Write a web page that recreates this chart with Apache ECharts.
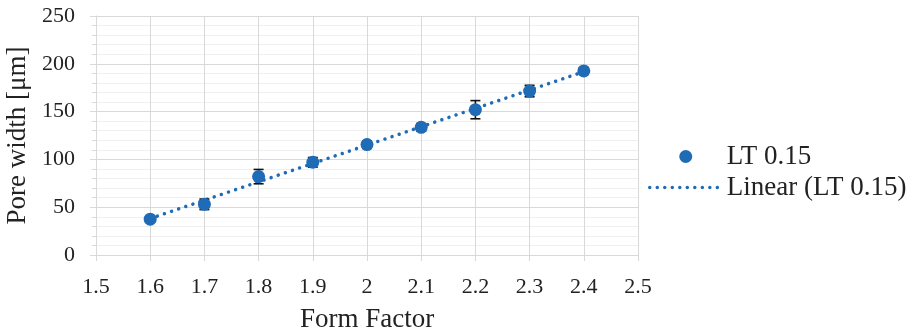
<!DOCTYPE html>
<html><head><meta charset="utf-8">
<script src="https://cdn.jsdelivr.net/npm/echarts@6/dist/echarts.min.js"></script>
<style>html,body{margin:0;padding:0;background:#fff}#c{width:914px;height:332px}</style>
</head><body><div id="c"></div>
<script>
const formFactor = [1.6, 1.7, 1.8, 1.9, 2.0, 2.1, 2.2, 2.3, 2.4];
const poreWidth  = [37.5, 53, 82, 97, 115.5, 133.5, 152, 171.5, 192.5];
const poreError  = [2, 5.5, 7.5, 5, 3.5, 4, 9.5, 6, 3.5];
const seriesName = 'LT 0.15';
const trendName  = 'Linear (LT 0.15)';

// least-squares trendline (as Excel's linear trendline)
const n = formFactor.length;
const mx = formFactor.reduce((a,b)=>a+b,0)/n;
const my = poreWidth.reduce((a,b)=>a+b,0)/n;
let sxy=0, sxx=0;
for (let i=0;i<n;i++){ sxy+=(formFactor[i]-mx)*(poreWidth[i]-my); sxx+=(formFactor[i]-mx)**2; }
const slope = sxy/sxx, icpt = my - slope*mx;
const xs = [formFactor[0], formFactor[n-1]];
const trend = xs.map(x => [x, icpt + slope*x]);

const blue = '#1f6bb5';
const font = '"Liberation Serif","Times New Roman",serif';
const dotted = {color:blue,width:3.5,type:[0.01,7.5],cap:'round'};
const chart = echarts.init(document.getElementById('c'));
chart.setOption({
  animation:false,
  textStyle:{fontFamily:font},
  grid:{left:96,right:276,top:16,bottom:77,containLabel:false,outerBoundsMode:'none'},
  xAxis:{type:'value',min:1.5,max:2.5,interval:0.1,
    name:'Form Factor',nameLocation:'middle',nameGap:51,
    nameTextStyle:{fontFamily:font,fontSize:27,color:'#222'},
    axisLine:{show:true,onZero:false,lineStyle:{color:'#d9d9d9',width:1}},
    axisTick:{show:true,length:6,lineStyle:{color:'#d9d9d9'}},
    axisLabel:{fontFamily:font,fontSize:22,color:'#222',margin:21,formatter:v=>String(+v.toFixed(1))},
    splitLine:{show:true,lineStyle:{color:'#d9d9d9',width:1}}},
  yAxis:{type:'value',min:0,max:250,interval:50,
    name:'Pore width [μm]',nameLocation:'middle',nameGap:59,
    nameTextStyle:{fontFamily:font,fontSize:27,color:'#222'},
    axisLine:{show:true,lineStyle:{color:'#d9d9d9',width:1}},
    axisTick:{show:true,length:6,lineStyle:{color:'#d9d9d9'}},
    minorTick:{show:true,splitNumber:5,length:4,lineStyle:{color:'#d9d9d9'}},
    axisLabel:{fontFamily:font,fontSize:22,color:'#222',margin:21},
    splitLine:{show:true,lineStyle:{color:'#d9d9d9',width:1}},
    minorSplitLine:{show:true,lineStyle:{color:'#efefef',width:1}}},
  legend:{orient:'vertical',left:643,top:138,itemWidth:72,itemHeight:13,itemGap:4,
    textStyle:{fontFamily:font,fontSize:27,color:'#222',lineHeight:27},
    data:[{name:seriesName,icon:'circle'},{name:trendName,itemStyle:{opacity:0},lineStyle:dotted}]},
  series:[
    {name:trendName,type:'line',data:trend,symbol:'none',z:2,
      lineStyle:dotted,itemStyle:{color:blue}},
    {name:'err',type:'custom',z:3,data:formFactor.map((x,i)=>[x,poreWidth[i]-poreError[i],poreWidth[i]+poreError[i]]),
      renderItem:(params,api)=>{
        const lo=api.coord([api.value(0),api.value(1)]);
        const hi=api.coord([api.value(0),api.value(2)]);
        const w=5; const st={stroke:'#111',lineWidth:1.6};
        return {type:'group',children:[
          {type:'line',shape:{x1:lo[0],y1:lo[1],x2:hi[0],y2:hi[1]},style:st},
          {type:'line',shape:{x1:lo[0]-w,y1:lo[1],x2:lo[0]+w,y2:lo[1]},style:st},
          {type:'line',shape:{x1:hi[0]-w,y1:hi[1],x2:hi[0]+w,y2:hi[1]},style:st}]};
      }},
    {name:seriesName,type:'scatter',z:4,data:formFactor.map((x,i)=>[x,poreWidth[i]]),
      symbol:'circle',symbolSize:13,itemStyle:{color:blue,opacity:1}}
  ]
});
</script></body></html>
